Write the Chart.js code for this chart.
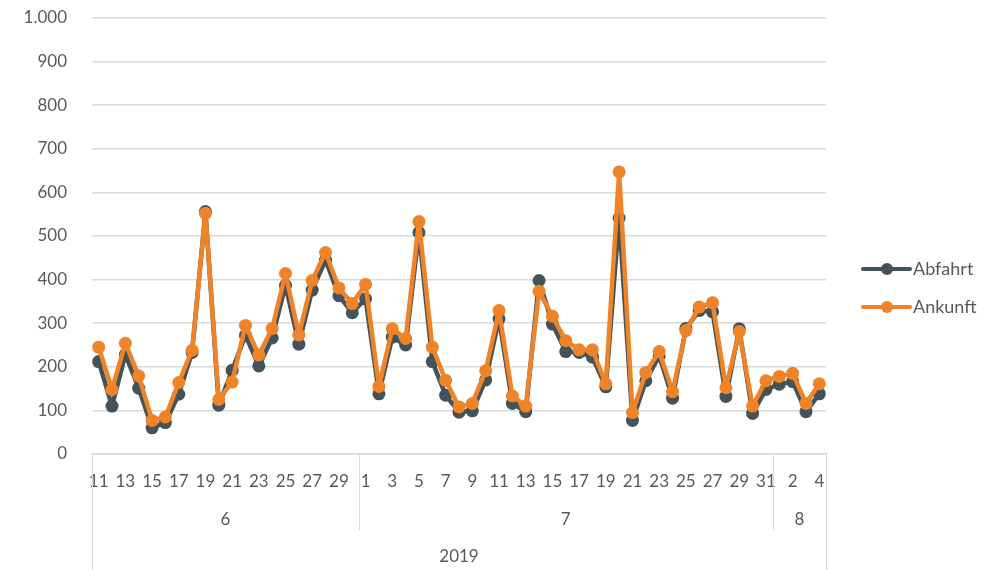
<!DOCTYPE html>
<html><head><meta charset="utf-8">
<script src="https://cdn.jsdelivr.net/npm/chart.js@4"></script>
<style>html,body{margin:0;padding:0;background:#fff;}canvas{display:block;}</style>
</head><body>
<canvas id="c" width="1004" height="570"></canvas>
<script>
const dayLabels = ['11','12','13','14','15','16','17','18','19','20','21','22','23','24','25','26','27','28','29','30',
  '1','2','3','4','5','6','7','8','9','10','11','12','13','14','15','16','17','18','19','20','21','22','23','24','25','26','27','28','29','30','31',
  '1','2','3','4'];
const months = ['6','7','8'];
const monthCounts = [20,31,4];
const yearLabel = '2019';
const abfahrt = [212,110,228,151,60,72,137,233,556,112,192,272,202,266,387,252,376,445,363,324,
  356,138,268,250,508,212,135,96,99,170,310,116,97,398,298,235,233,222,154,541,77,168,225,128,288,329,326,132,287,93,148,
  160,166,97,138];
const ankunft = [245,148,254,179,77,85,164,238,552,125,165,295,227,288,414,273,398,462,381,345,
  389,155,287,265,533,245,169,108,116,191,329,133,110,373,316,260,239,239,161,647,95,187,235,143,283,337,347,152,281,110,168,
  178,185,116,161];
const seriesNames = ['Abfahrt','Ankunft'];
const colDark = '#44525A';
const colOrange = '#EE8427';
const textCol = '#595959';
const gridCol = '#D9D9D9';
const FONT = 'Lato, "Open Sans", sans-serif';

const groupAxis = {
  id: 'groupAxis',
  afterDraw(chart) {
    const ctx = chart.ctx, x = chart.scales.x, area = chart.chartArea;
    const top = area.bottom, bottom = chart.height;
    ctx.save();
    ctx.strokeStyle = gridCol; ctx.lineWidth = 1;
    ctx.fillStyle = textCol; ctx.font = '17px ' + FONT;
    ctx.textAlign = 'center'; ctx.textBaseline = 'middle';
    const line = (px, y2) => { ctx.beginPath(); ctx.moveTo(Math.round(px)+0.5, top); ctx.lineTo(Math.round(px)+0.5, y2); ctx.stroke(); };
    line(area.left, bottom); line(area.right, bottom);
    let start = 0;
    months.forEach((m, i) => {
      const end = start + monthCounts[i] - 1;
      const l = start === 0 ? area.left : (x.getPixelForValue(start-1) + x.getPixelForValue(start))/2;
      const r = end === dayLabels.length-1 ? area.right : (x.getPixelForValue(end) + x.getPixelForValue(end+1))/2;
      if (i > 0) line(l, top + 76);
      ctx.fillText(m, (l + r)/2, top + 66);
      start = end + 1;
    });
    ctx.fillText(yearLabel, (area.left + area.right)/2, top + 103);
    // legend
    const items = [[seriesNames[0], colDark, 269], [seriesNames[1], colOrange, 307]];
    ctx.textAlign = 'left';
    items.forEach(([t, c, y]) => {
      ctx.strokeStyle = c; ctx.fillStyle = c; ctx.lineWidth = 4; ctx.lineCap = 'round';
      ctx.beginPath(); ctx.moveTo(863, y); ctx.lineTo(910, y); ctx.stroke();
      ctx.beginPath(); ctx.arc(887, y, 6, 0, Math.PI*2); ctx.fill();
      ctx.fillStyle = textCol; ctx.font = '18px ' + FONT;
      ctx.fillText(t, 913, y);
    });
    ctx.restore();
  }
};

new Chart(document.getElementById('c'), {
  type: 'line',
  data: {
    labels: dayLabels,
    datasets: [
      { label: seriesNames[0], data: abfahrt, borderColor: colDark, backgroundColor: colDark, borderWidth: 4.5,
        borderJoinStyle: 'round', borderCapStyle: 'round',
        pointRadius: 6.5, pointHoverRadius: 6.5, pointBorderWidth: 0, tension: 0, order: 2 },
      { label: seriesNames[1], data: ankunft, borderColor: colOrange, backgroundColor: colOrange, borderWidth: 4.5,
        borderJoinStyle: 'round', borderCapStyle: 'round',
        pointRadius: 6.5, pointHoverRadius: 6.5, pointBorderWidth: 0, tension: 0, order: 1 }
    ]
  },
  options: {
    responsive: false, animation: false, devicePixelRatio: 1,
    layout: { padding: { left: 0, right: 178, top: 18, bottom: 0 } },
    plugins: { legend: { display: false }, tooltip: { enabled: false } },
    scales: {
      y: {
        min: 0, max: 1000,
        afterFit(s) { s.width = 92; s.paddingTop = 0; s.paddingBottom = 0; },
        ticks: { stepSize: 100, padding: 25, color: textCol, font: { family: FONT, size: 17 },
          callback: v => v.toLocaleString('de-DE') },
        grid: { color: gridCol, lineWidth: 1.5, drawTicks: false },
        border: { display: false }
      },
      x: {
        offset: true,
        afterFit(s) { s.height = 116; },
        grid: { display: false, drawTicks: false },
        border: { display: true, color: gridCol, width: 1.5 },
        ticks: { autoSkip: false, maxRotation: 0, minRotation: 0, padding: 17, color: textCol,
          font: { family: FONT, size: 17 },
          callback: (v, i) => (i % 2 === 0 ? dayLabels[i] : '') }
      }
    }
  },
  plugins: [groupAxis]
});
</script>
</body></html>
